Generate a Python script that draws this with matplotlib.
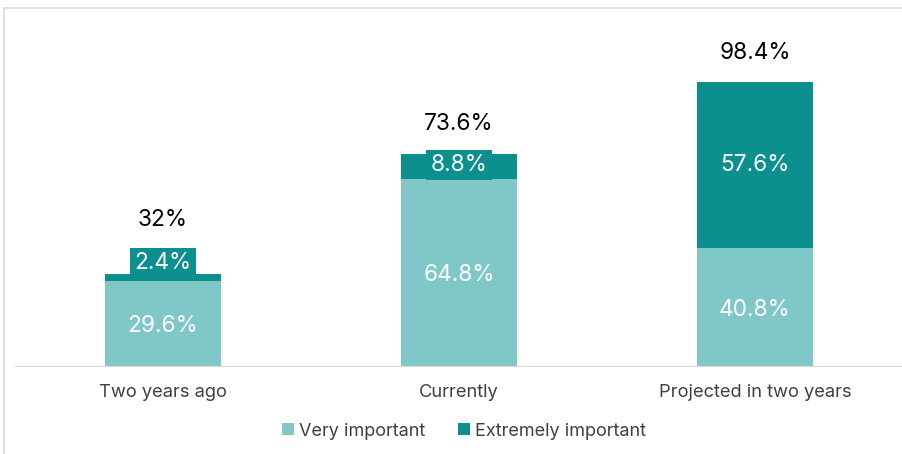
import matplotlib
matplotlib.use("Agg")
import matplotlib.pyplot as plt
from matplotlib.patches import Rectangle

categories = ["Two years ago", "Currently", "Projected in two years"]
very_important = [29.6, 64.8, 40.8]
extremely_important = [2.4, 8.8, 57.6]
totals = [32, 73.6, 98.4]
total_labels = ["32%", "73.6%", "98.4%"]
series_names = ["Very important", "Extremely important"]

light = "#80c8c8"
dark = "#0b8f8f"

plt.rcParams['font.family'] = ['Inter', 'DejaVu Sans']

fig = plt.figure(figsize=(9.03, 4.54), dpi=100)
ax = fig.add_axes([15/903, 1-366/454, 888/903, 358/454])

x = list(range(len(categories)))
w = 0.395
b1 = ax.bar(x, very_important, w, color=light, label=series_names[0], zorder=2)
b2 = ax.bar(x, extremely_important, w, bottom=very_important, color=dark,
            label=series_names[1], zorder=2)

ax.set_xlim(-0.5, 2.5)
ax.set_ylim(0, 358/2.886)

fs = 16.3
for i in x:
    ax.annotate(f"{very_important[i]:.1f}%", (i, very_important[i]/2), xytext=(0, -2),
                textcoords="offset points", ha="center", va="center",
                color="white", fontsize=fs)
ext_offsets = [14, 1, 0]
for i in x:
    yc = very_important[i] + extremely_important[i]/2
    small = extremely_important[i] < 10
    bbox = dict(boxstyle="square,pad=0.18", fc=dark, ec="none") if small else None
    ax.annotate(f"{extremely_important[i]:.1f}%", (i, yc), xytext=(0, ext_offsets[i]*0.72),
                textcoords="offset points", ha="center", va="center", color="white",
                fontsize=fs, bbox=bbox, zorder=3)
tot_offsets = [54, 30, 29]
for i in x:
    ax.annotate(total_labels[i], (i, totals[i]), xytext=(0, tot_offsets[i]*0.72),
                textcoords="offset points", ha="center", va="center", color="black",
                fontsize=fs)

for s in ["top", "right", "left"]:
    ax.spines[s].set_visible(False)
ax.spines["bottom"].set_color("#d9d9d9")
ax.set_yticks([])
ax.set_xticks(x)
ax.set_xticklabels(categories, fontsize=13.2, color="#404040")
ax.tick_params(axis="x", length=0, pad=13)

leg = fig.legend(loc="center", bbox_to_anchor=(464/903, 1-431/454), ncol=2, frameon=False,
                 fontsize=13, handlelength=0.65, handleheight=0.65, handletextpad=0.3,
                 columnspacing=1.8)
for t in leg.get_texts():
    t.set_color("#404040")

fig.patches.append(Rectangle((4/903, -0.1), 1.1, (454-8)/454 + 0.1, transform=fig.transFigure,
                             fill=False, ec="#d9d9d9", lw=1.2))

fig.savefig("out.png", dpi=100)
